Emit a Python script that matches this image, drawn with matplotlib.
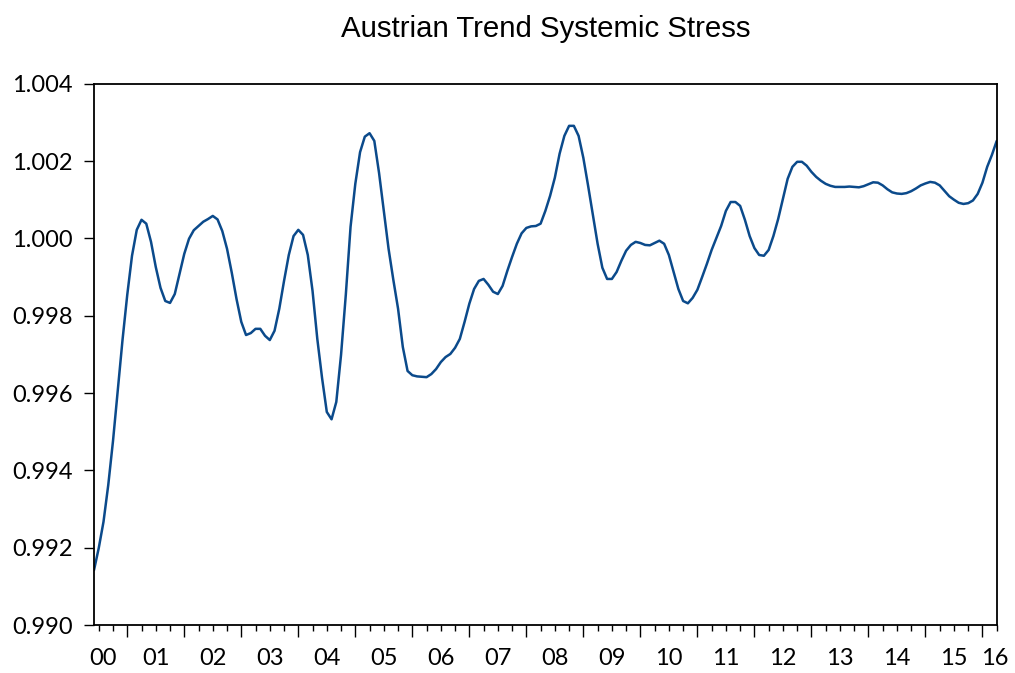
import numpy as np
import matplotlib
matplotlib.use("Agg")
import matplotlib.pyplot as plt
import matplotlib.transforms as mtrans

# monthly trend series, 2000M6 .. 2016M4
start_year, start_month = 2000, 6
stress = [
    0.99142, 0.99199, 0.99267, 0.99362, 0.99476, 0.99605, 0.99737,            # 2000 M6-M12
    0.99854, 0.99955, 1.00022, 1.00048, 1.00038, 0.99991,                     # 2001
    0.99926, 0.99872, 0.99838, 0.99833, 0.99856, 0.99908,
    0.99960, 0.99999, 1.00021, 1.00032, 1.00043, 1.00050,                     # 2002
    1.00058, 1.00049, 1.00019, 0.99973, 0.99911, 0.99843,
    0.99784, 0.99750, 0.99755, 0.99766, 0.99766, 0.99748,                     # 2003
    0.99737, 0.99761, 0.99818, 0.99890, 0.99957, 1.00006,
    1.00022, 1.00009, 0.99957, 0.99864, 0.99740, 0.99639,                     # 2004
    0.99551, 0.99532, 0.99577, 0.99699, 0.99854, 1.00030,
    1.00141, 1.00223, 1.00263, 1.00272, 1.00252, 1.00169,                     # 2005
    1.00071, 0.99973, 0.99893, 0.99818, 0.99719, 0.99657,
    0.99646, 0.99643, 0.99642, 0.99641, 0.99649, 0.99662,                     # 2006
    0.99680, 0.99693, 0.99701, 0.99717, 0.99740, 0.99784,
    0.99831, 0.99869, 0.99890, 0.99895, 0.99880, 0.99862,                     # 2007
    0.99856, 0.99877, 0.99916, 0.99952, 0.99986, 1.00013,
    1.00027, 1.00031, 1.00032, 1.00038, 1.00071, 1.00110,                     # 2008
    1.00157, 1.00219, 1.00265, 1.00291, 1.00291, 1.00265,
    1.00208, 1.00136, 1.00061, 0.99986, 0.99924, 0.99895,                     # 2009
    0.99895, 0.99913, 0.99942, 0.99968, 0.99983, 0.99991,
    0.99988, 0.99983, 0.99982, 0.99988, 0.99994, 0.99986,                     # 2010
    0.99957, 0.99913, 0.99869, 0.99838, 0.99832, 0.99846,
    0.99867, 0.99900, 0.99934, 0.99970, 1.00001, 1.00032,                     # 2011
    1.00071, 1.00094, 1.00094, 1.00084, 1.00048, 1.00006,
    0.99975, 0.99957, 0.99955, 0.99970, 1.00006, 1.00050,                     # 2012
    1.00102, 1.00154, 1.00185, 1.00198, 1.00198, 1.00188,
    1.00172, 1.00159, 1.00149, 1.00141, 1.00136, 1.00133,                     # 2013
    1.00133, 1.00133, 1.00134, 1.00133, 1.00132, 1.00135,
    1.00140, 1.00145, 1.00144, 1.00137, 1.00127, 1.00119,                     # 2014
    1.00116, 1.00115, 1.00117, 1.00122, 1.00129, 1.00137,
    1.00142, 1.00146, 1.00144, 1.00137, 1.00123, 1.00109,                     # 2015
    1.00100, 1.00092, 1.00089, 1.00091, 1.00098, 1.00115,
    1.00144, 1.00185, 1.00216, 1.00252,                                       # 2016 M1-M4
]
years = list(range(2000, 2017))
year_labels = [f"{y % 100:02d}" for y in years]
yticks = [0.990, 0.992, 0.994, 0.996, 0.998, 1.000, 1.002, 1.004]

t = start_year + (start_month - 1 + np.arange(len(stress))) / 12.0
x0, x1 = t[0], t[-1]

fig = plt.figure(figsize=(10.15, 6.73), dpi=100)
ax = fig.add_axes([94 / 1015, 48 / 673, 902.7 / 1015, 541.3 / 673])

ax.plot(t, stress, color="#0b4a8b", lw=1.8,
        solid_capstyle="round", solid_joinstyle="round")

ax.set_xlim(x0, x1)
ax.set_ylim(0.990, 1.004)
ax.set_yticks(yticks)
ax.set_yticklabels([f"{v:.3f}" for v in yticks])

major = [y for y in years if x0 <= y <= x1]
minor = [q for q in np.arange(2000, 2016.5, 0.25) if x0 <= q <= x1 + 1e-9 and q % 1 != 0]
ax.set_xticks(major)
ax.set_xticks(minor, minor=True)
ax.set_xticklabels([])
ax.tick_params(axis="x", which="major", length=8.5, width=1, direction="out")
ax.tick_params(axis="x", which="minor", length=4.3, width=1, direction="out")
ax.tick_params(axis="y", which="major", length=7.5, width=1, direction="out",
               pad=8, labelsize=17)
for lab in ax.get_yticklabels():
    lab.set_fontfamily("Lato")

for s in ax.spines.values():
    s.set_linewidth(1.3)
    s.set_color("black")

# year labels centred on each year, squeezed at the partial ends
trans = mtrans.blended_transform_factory(ax.transData, ax.transAxes)
for y, lab in zip(years, year_labels):
    pos = y + 0.5
    if y == years[0]:
        pos = x0 + 0.15
    if y == years[-1]:
        pos = x1 - 0.035
    ax.text(pos, -0.074, lab, transform=trans, ha="center", va="baseline",
            fontsize=17, family="Lato", clip_on=False)

fig.text(545.5 / 1015, 1 - 37 / 673, "Austrian Trend Systemic Stress",
         ha="center", va="baseline", fontsize=21.2, family="Liberation Sans")

fig.savefig("out.png", dpi=100)
